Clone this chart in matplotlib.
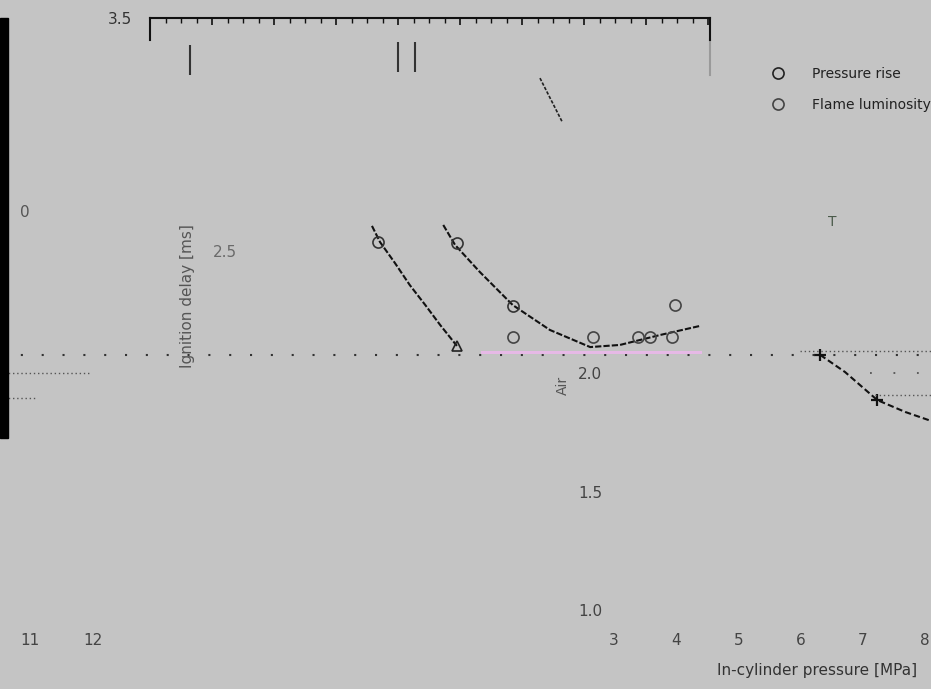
import matplotlib
matplotlib.use("Agg")
import matplotlib.pyplot as plt
from matplotlib.lines import Line2D
from matplotlib.patches import Rectangle

BG = "#c4c4c4"

# ignition delay [ms] vs. pressure, pressure-rise criterion
rise_x = [3.58, 3.71, 3.95, 4.19, 4.44, 4.68, 4.95]
rise_y = [2.625, 2.557, 2.469, 2.376, 2.292, 2.208, 2.120]

# flame luminosity criterion
lum_x = [4.73, 4.92, 5.32, 5.85, 6.45, 7.10, 7.58, 8.23, 8.87]
lum_y = [2.629, 2.545, 2.431, 2.292, 2.187, 2.115, 2.124, 2.166, 2.204]

# measured points
rise_pts_x = [3.68, 4.95, 5.85]
rise_pts_y = [2.557, 2.553, 2.288]
lum_pts_x = [5.85, 7.15, 7.87, 8.06, 8.42, 8.47]
lum_pts_y = [2.157, 2.157, 2.157, 2.157, 2.157, 2.292]

# second operating point (right)
high_x = [10.81, 11.21, 11.73, 12.18, 12.60]
high_y = [2.082, 2.010, 1.892, 1.842, 1.804]

# reference level lines
ref_level = 2.082
ref_x = [-2.42, 12.6]
pink_level = 2.094
pink_x = [5.35, 8.87]

# scatter bars near the top
bar_x = [0.645, 4.00, 4.27]
bar_lo = [3.26, 3.273, 3.273]
bar_hi = [3.386, 3.399, 3.399]

xticks_bottom = [-6.39, -5.38, 3, 4, 5, 6, 7, 8]
xtick_labels = ["11", "12", "3", "4", "5", "6", "7", "8"]

fig = plt.figure(figsize=(9.31, 6.89), dpi=100)
fig.patch.set_facecolor(BG)

# dark strip on the left edge
fig.patches.append(Rectangle((0, 1 - 438 / 689), 8 / 931, 420 / 689,
                             transform=fig.transFigure, color="black", zorder=0))

ax = fig.add_axes([150 / 931, 1 - 612 / 689, 560 / 931, 594 / 689])
ax.set_facecolor("none")
ax.set_xlim(0, 560 / 62)
ax.set_ylim(1.0, 3.5)

# only the top frame is drawn
ax.spines["bottom"].set_visible(False)
for s in ["top", "left", "right"]:
    ax.spines[s].set_linewidth(1.5)
    ax.spines[s].set_color("#111111")
ax.spines["left"].set_bounds(3.407, 3.5)
ax.spines["right"].set_bounds(3.407, 3.5)
ax.plot([560 / 62] * 2, [3.26, 3.407], color="#9a9a9a", lw=1.5, clip_on=False)

ax.xaxis.set_ticks_position("top")
ax.set_xticks(range(0, 10))
ax.set_xticks([i * 0.25 for i in range(0, 37)], minor=True)
ax.tick_params(axis="x", which="major", direction="in", length=5, width=1.2,
               labeltop=False, labelbottom=False, color="#111111")
ax.tick_params(axis="x", which="minor", direction="in", length=3.5, width=1.0,
               color="#111111")
ax.set_yticks([3.5])
ax.set_yticklabels(["3.5"])
ax.tick_params(axis="y", length=0, pad=13, labelsize=11, labelcolor="#333333")

# curves and markers
ax.plot(rise_x, rise_y, color="#111111", lw=1.5, ls=(0, (3, 1)), clip_on=False)
ax.plot(lum_x, lum_y, color="#111111", lw=1.5, ls=(0, (3, 1)), clip_on=False)
ax.plot(high_x, high_y, color="#111111", lw=1.5, ls=(0, (3, 1.5)), clip_on=False)
ax.plot(rise_pts_x, rise_pts_y, "o", mfc="none", mec="#333333", ms=8, mew=1.2)
ax.plot([4.95], [2.120], "^", mfc="none", mec="#222222", ms=7, mew=1.2)
ax.plot(lum_pts_x, lum_pts_y, "o", mfc="none", mec="#444444", ms=8, mew=1.2)
ax.plot([high_x[0], high_x[2]], [high_y[0], high_y[2]], "+", color="#111111",
        ms=8, mew=1.6, clip_on=False)

# dotted reference levels
ax.plot(ref_x, [ref_level] * 2, color="#333333", lw=1.5, ls=(0, (1, 9)),
        clip_on=False)
ax.plot([10.48, 12.6], [2.098] * 2, color="#555555", lw=1, ls=(0, (1, 2)),
        clip_on=False)
ax.plot([11.61, 12.6], [2.006] * 2, color="#555555", lw=1.3, ls=(0, (1, 12)),
        clip_on=False)
ax.plot([11.69, 12.6], [1.913] * 2, color="#555555", lw=1, ls=(0, (1, 2)),
        clip_on=False)
ax.plot([-2.42, -0.97], [2.006] * 2, color="#555555", lw=1, ls=(0, (1, 2)),
        clip_on=False)
ax.plot([-2.42, -1.85], [1.901] * 2, color="#555555", lw=1, ls=(0, (1, 2)),
        clip_on=False)
ax.plot(pink_x, [pink_level] * 2, color="#e6b9e6", lw=2.2, clip_on=False)

ax.vlines(bar_x, bar_lo, bar_hi, color="#333333", lw=1.5)
ax.plot([6.29, 6.65], [3.247, 3.062], color="#222222", lw=1.2,
        ls=(0, (2, 1)))

# axis annotations
ax.text(0.61, 2.33, "Ignition delay [ms]", rotation=90, ha="center",
        va="center", fontsize=11, color="#555555")
ax.text(1.21, 2.515, "2.5", ha="center", va="center", fontsize=11,
        color="#6a6a6a")
for yv in [2.0, 1.5, 1.0]:
    ax.text(7.10, yv, f"{yv:.1f}", ha="center", va="center", fontsize=11,
            color="#444444")
ax.text(6.66, 1.955, "Air", rotation=90, ha="center", va="center",
        fontsize=10, color="#555555")
ax.text(-2.02, 2.683, "0", ha="center", va="center", fontsize=11,
        color="#555555", clip_on=False)
ax.text(11.0, 2.641, "T", ha="center", va="center", fontsize=10,
        color="#4a5a4a", clip_on=False)

handles = [
    Line2D([], [], marker="o", mfc="none", mec="#222222", ms=8, mew=1.2, ls=""),
    Line2D([], [], marker="o", mfc="none", mec="#444444", ms=8, mew=1.2, ls=""),
]
fig.legend(handles, ["Pressure rise", "Flame luminosity"], loc="upper left",
           bbox_to_anchor=(762 / 931, 1 - 67 / 689), frameon=False,
           fontsize=10, handlelength=2.3, handletextpad=1.3, labelspacing=1.2,
           borderpad=0, borderaxespad=0, labelcolor="#222222")

# bottom pressure axis (tick labels only)
ax_b = fig.add_axes([0, 1 - 632 / 689, 1, 0.0001])
ax_b.set_facecolor("none")
ax_b.set_xlim(3 - 614 / 62.2, 3 + (931 - 614) / 62.2)
ax_b.set_xticks(xticks_bottom)
ax_b.set_xticklabels(xtick_labels)
ax_b.set_yticks([])
ax_b.tick_params(axis="x", length=0, pad=1, labelsize=11, labelcolor="#444444")
for s in ax_b.spines.values():
    s.set_visible(False)

fig.text(717 / 931, 1 - 670 / 689, "In-cylinder pressure [MPa]",
         ha="left", va="center", fontsize=11, color="#333333")

fig.savefig("out.png", dpi=100, facecolor=BG)
